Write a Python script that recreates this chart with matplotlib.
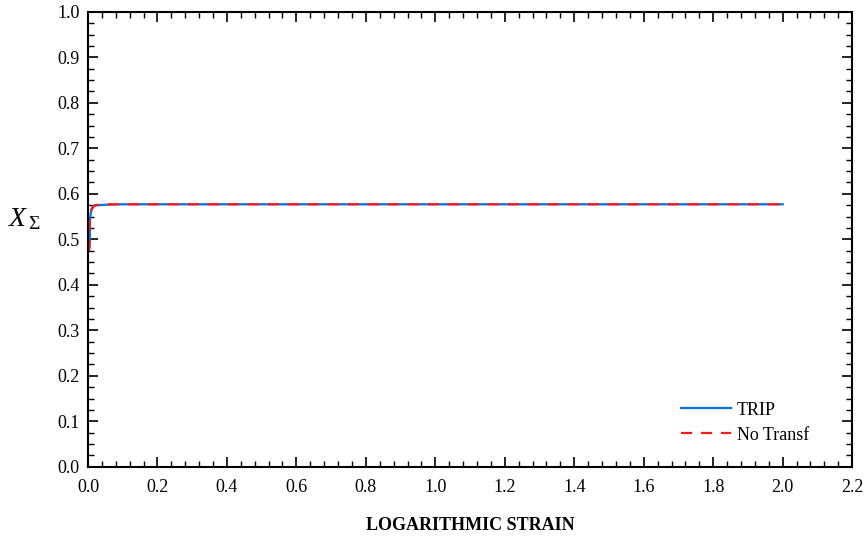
import numpy as np
import matplotlib.pyplot as plt
from matplotlib.ticker import MultipleLocator

plt.rcParams['font.family'] = ['Liberation Serif', 'DejaVu Serif']
plt.rcParams['mathtext.fontset'] = 'custom'
plt.rcParams['mathtext.rm'] = 'Liberation Serif'
plt.rcParams['mathtext.it'] = 'Liberation Serif:italic'

# curve data
strain_trip = [0.005, 0.0055, 0.006, 0.008, 0.011, 0.015, 0.02, 0.03, 0.05, 0.1, 0.2, 0.5, 1.0, 1.5, 2.0]
x_trip = [0.485, 0.52, 0.545, 0.558, 0.566, 0.571, 0.574, 0.575, 0.576, 0.577, 0.577, 0.577, 0.577, 0.577, 0.577]

strain_notr = [0.004, 0.0045, 0.005, 0.007, 0.01, 0.014, 0.02, 0.03, 0.05, 0.1, 0.2, 0.5, 1.0, 1.5, 2.0]
x_notr = [0.475, 0.51, 0.54, 0.556, 0.566, 0.572, 0.575, 0.576, 0.577, 0.577, 0.577, 0.577, 0.577, 0.577, 0.577]

fig, ax = plt.subplots(figsize=(8.66, 5.36), dpi=100)
fig.subplots_adjust(left=0.1016, right=0.984, top=0.978, bottom=0.129)

ax.plot(strain_trip, x_trip, color='#0a6ede', linewidth=1.6, label='TRIP')
ax.plot(strain_notr, x_notr, color='#ff1a1a', linewidth=1.6, linestyle=(0, (5, 4)),
        label='No Transf')

ax.set_xlim(0, 2.2)
ax.set_ylim(0, 1.0)
ax.xaxis.set_major_locator(MultipleLocator(0.2))
ax.xaxis.set_minor_locator(MultipleLocator(0.04))
ax.yaxis.set_major_locator(MultipleLocator(0.1))
ax.yaxis.set_minor_locator(MultipleLocator(0.025))
ax.tick_params(which='both', direction='in', top=True, right=True, labelsize=13)
ax.tick_params(which='major', length=7, width=1.2)
ax.tick_params(which='minor', length=4, width=1.0)
ax.tick_params(axis='x', which='major', pad=9)
ax.tick_params(axis='y', which='major', pad=6)
for s in ax.spines.values():
    s.set_linewidth(1.5)

ax.set_xlabel('LOGARITHMIC STRAIN', fontsize=13, fontweight='bold', labelpad=15)
ax.set_ylabel(r'$X_{\,\Sigma}$', fontsize=20, rotation=0)
ax.yaxis.set_label_coords(-0.083, 0.515)

ax.legend(loc='lower right', bbox_to_anchor=(0.965, 0.015), frameon=False, fontsize=13,
          handlelength=2.8, handletextpad=0.3, labelspacing=0.45)

plt.savefig('out.png', dpi=100)
